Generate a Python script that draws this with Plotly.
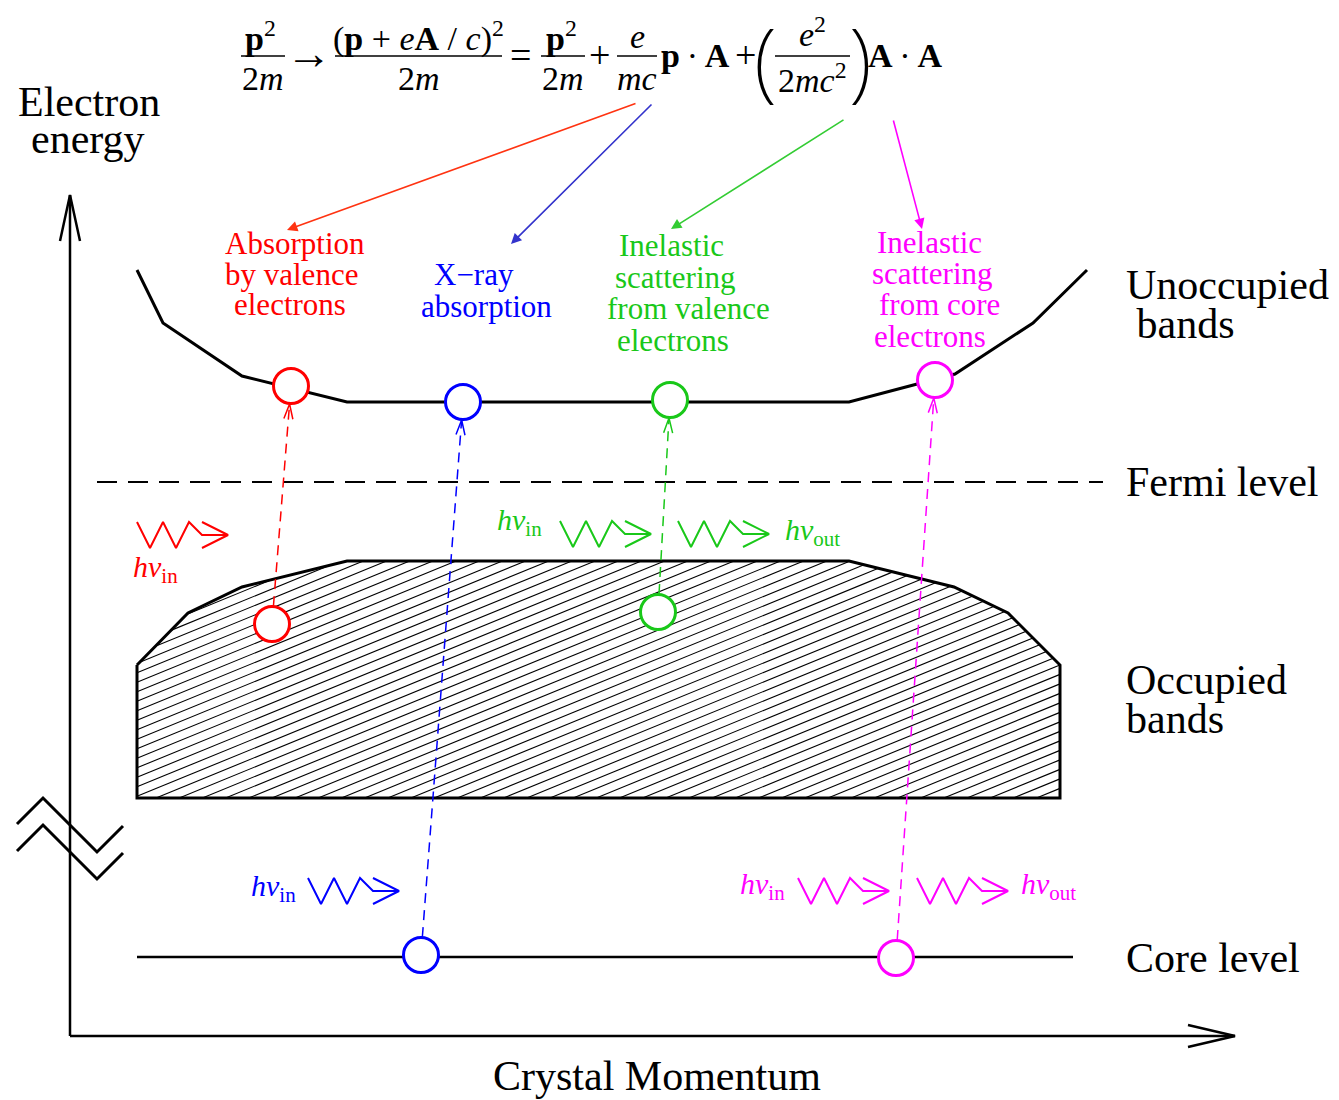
import numpy as np
import plotly.graph_objects as go

W, H = 1339, 1100
SERIF = "Liberation Serif"

# ---- band structure outlines (canvas units: x = crystal momentum, y = energy, downwards) ----
upper_band_x = [137, 163, 242, 347, 849, 955, 1033, 1087]
upper_band_y = [270, 323, 376, 402, 402, 374, 323, 270]

valence_x = [137, 188, 242, 347, 849, 954, 1008, 1060, 1060, 137, 137]
valence_y = [665, 613, 587, 561, 561, 587, 613, 665, 798, 798, 665]

fermi_x = [97, 1103]
fermi_y = 482
core_x = [137, 1073]
core_y = 957

# ---- the four processes: colour, initial state, final state ----
process_names = ["valence absorption", "x-ray absorption", "valence scattering", "core scattering"]
process_colors = ["#ff0000", "#0000ff", "#19c819", "#ff00ff"]
initial_x = [272, 421, 658, 896]
initial_y = [624, 955, 612, 958]
final_x = [291, 463, 670, 935]
final_y = [386, 402, 400, 380]
state_radius = 18

# photon glyphs: (start x, centre y, colour index)
photon_x = [137, 560, 678, 308, 798, 917]
photon_y = [535, 534, 534, 891, 891, 891]
photon_c = [0, 2, 2, 1, 3, 3]

# photon labels: (text, left x, centre y, colour index)
hv_labels = [
    ("<i>hν</i><sub>in</sub>", 131, 569, 0),
    ("<i>hν</i><sub>in</sub>", 495, 522, 2),
    ("<i>hν</i><sub>out</sub>", 783, 532, 2),
    ("<i>hν</i><sub>in</sub>", 249, 888, 1),
    ("<i>hν</i><sub>in</sub>", 738, 886, 3),
    ("<i>hν</i><sub>out</sub>", 1019, 886, 3),
]

# process captions, one entry per line: (text, centre x, centre y, colour index)
captions = [
    ("Absorption", 295, 243, 0), ("by valence", 291, 274, 0), ("electrons", 290, 304, 0),
    ("X\u2212ray", 474, 274, 1), ("absorption", 486, 306, 1),
    ("Inelastic", 671, 245, 2), ("scattering", 675, 277, 2),
    ("from valence", 688, 308, 2), ("electrons", 673, 340, 2),
    ("Inelastic", 929, 242, 3), ("scattering", 932, 273, 3),
    ("from core", 939, 304, 3), ("electrons", 930, 336, 3),
]

# pointers from the Hamiltonian terms to the captions: (tail x, tail y, head x, head y, colour)
term_arrows = [
    (637, 103, 287, 230, "#ff3311"),
    (653, 103, 511, 244, "#3333cc"),
    (845, 119, 671, 229, "#33cc33"),
    (893, 119, 922, 229, "#ff00ff"),
]

# black side labels: (text, x, centre y, anchor)
side_labels = [
    ("Electron", 89, 102, "center"), ("energy", 88, 139, "center"),
    ("Unoccupied", 1124, 285, "left"), (" bands", 1124, 324, "left"),
    ("Fermi level", 1124, 482, "left"),
    ("Occupied", 1124, 680, "left"), ("bands", 1124, 719, "left"),
    ("Core level", 1124, 958, "left"),
    ("Crystal Momentum", 657, 1076, "center"),
]

fig = go.Figure()


def add_line(xs, ys, color="black", width=2.5, dash=None):
    fig.add_trace(go.Scatter(x=xs, y=ys, mode="lines", hoverinfo="skip",
                             line=dict(color=color, width=width, dash=dash)))


# ---- hatching of the occupied bands ----
hatch_slope = -0.41
hatch_step = 9.5
vx = np.array(valence_x, float)
vy = np.array(valence_y, float)
offsets = vy - hatch_slope * vx
hx, hy = [], []
for a in np.arange(offsets.min() + hatch_step / 2, offsets.max(), hatch_step):
    pts = []
    for i in range(len(vx) - 1):
        x1, y1, x2, y2 = vx[i], vy[i], vx[i + 1], vy[i + 1]
        f1 = y1 - (a + hatch_slope * x1)
        f2 = y2 - (a + hatch_slope * x2)
        if f1 == f2:
            continue
        if (f1 <= 0 <= f2) or (f2 <= 0 <= f1):
            t = f1 / (f1 - f2)
            pts.append((x1 + t * (x2 - x1), y1 + t * (y2 - y1)))
    if len(pts) >= 2:
        pts.sort()
        hx += [pts[0][0], pts[-1][0], None]
        hy += [pts[0][1], pts[-1][1], None]
fig.add_trace(go.Scatter(x=hx, y=hy, mode="lines", hoverinfo="skip",
                         line=dict(color="black", width=1.1)))

# ---- bands and levels ----
add_line(valence_x, valence_y, width=3)
add_line(upper_band_x, upper_band_y, width=3)
add_line(fermi_x, [fermi_y, fermi_y], width=2.2, dash="20px,11px")
add_line(core_x, [core_y, core_y], width=2.5)

# ---- axes with open arrow heads ----
ax0x, ax0y = 70, 1036
ytop, xend = 195, 1235
add_line([ax0x, ax0x], [ax0y, ytop], width=2.5)
add_line([ax0x - 10, ax0x, ax0x + 10], [ytop + 46, ytop, ytop + 46], width=2.5)
add_line([ax0x, xend], [ax0y, ax0y], width=2.5)
add_line([xend - 47, xend, xend - 47], [ax0y - 11, ax0y, ax0y + 11], width=2.5)

# axis break symbol
brk_x = [17, 43, 97, 123]
brk_y = [824, 798, 852, 826]
add_line(brk_x, brk_y, width=3)
add_line(brk_x, [v + 27 for v in brk_y], width=3)

# ---- dashed transitions with small open arrow heads ----
for k in range(4):
    col = process_colors[k]
    p0 = np.array([initial_x[k], initial_y[k]], float)
    p1 = np.array([final_x[k], final_y[k]], float)
    u = (p1 - p0) / np.linalg.norm(p1 - p0)
    n = np.array([-u[1], u[0]])
    s = p0 + u * state_radius
    e = p1 - u * state_radius
    add_line([s[0], e[0]], [s[1], e[1]], color=col, width=1.5, dash="10px,7px")
    b1 = e - u * 15 + n * 4.5
    b2 = e - u * 15 - n * 4.5
    add_line([b1[0], e[0], b2[0]], [b1[1], e[1], b2[1]], color=col, width=1.5)

# ---- photon zigzags ----
zig_dx = [0, 13, 26, 39, 52, 65, 91]
zig_dy = [-13, 13, -13, 13, -13, 0, 0]
for x0, yc, ci in zip(photon_x, photon_y, photon_c):
    col = process_colors[ci]
    add_line([x0 + d for d in zig_dx], [yc + d for d in zig_dy], color=col, width=2)
    add_line([x0 + 65, x0 + 91, x0 + 65], [yc - 13, yc, yc + 13], color=col, width=2)

# ---- electron states ----
all_x = initial_x + final_x
all_y = initial_y + final_y
all_c = process_colors + process_colors
fig.add_trace(go.Scatter(x=all_x, y=all_y, mode="markers", hoverinfo="skip",
                         marker=dict(symbol="circle", size=2 * state_radius - 1, color="white",
                                     line=dict(color=all_c, width=3))))

annotations = []


def text(t, x, y, size, color="black", anchor="center", family=SERIF, weight=None):
    font = dict(family=family, size=size, color=color)
    if weight is not None:
        font["weight"] = weight
    annotations.append(dict(text=t, x=x, y=y, xref="x", yref="y", showarrow=False,
                            xanchor=anchor, yanchor="middle", font=font))


for t, x, y, a in side_labels:
    text(t, x, y, 42, anchor=a)
for t, x, y, ci in captions:
    text(t, x, y, 31, color=process_colors[ci])
for t, x, y, ci in hv_labels:
    text(t, x, y, 30, color=process_colors[ci], anchor="left")

for tx, ty, hx_, hy_, col in term_arrows:
    annotations.append(dict(x=hx_, y=hy_, ax=tx, ay=ty, xref="x", yref="y", axref="x", ayref="y",
                            text="", showarrow=True, arrowhead=2, arrowsize=1.3,
                            arrowwidth=1.6, arrowcolor=col))

# ---- Hamiltonian with the vector potential ----
EQ = 34
THIN = "\u2009"
eq_tokens = [
    ("<b>p</b><sup>2</sup>", 260, 36, EQ),
    ("2<i>m</i>", 263, 78, EQ),
    ("\u2192", 309, 53, 46),
    ("(<b>p</b> + <i>e</i><b>A</b> / <i>c</i>)<sup>2</sup>", 418, 36, EQ),
    ("2<i>m</i>", 419, 78, EQ),
    ("=", 520, 55, 38),
    ("<b>p</b><sup>2</sup>", 561, 36, EQ),
    ("2<i>m</i>", 563, 78, EQ),
    ("+", 599, 55, 38),
    ("<i>e</i>", 637, 36, EQ),
    ("<i>mc</i>", 637, 78, EQ),
    ("<b>p</b>" + THIN + "\u00b7" + THIN + "<b>A</b>", 695, 55, EQ),
    ("+", 745, 55, 38),
    ("<i>e</i><sup>2</sup>", 812, 32, EQ),
    ("2<i>mc</i><sup>2</sup>", 812, 78, EQ),
    ("<b>A</b>" + THIN + "\u00b7" + THIN + "<b>A</b>", 905, 55, EQ),
]
for t, x, y, s in eq_tokens:
    text(t, x, y, s)
# tall, thin bracket pair around the second-order coefficient
text("(", 765, 57, 86, family="Noto Sans", weight=200)
text(")", 860, 57, 86, family="Noto Sans", weight=200)

fraction_bars = [(241, 285), (335, 502), (541, 585), (617, 657), (775, 850)]
shapes = [dict(type="line", xref="x", yref="y", x0=a, x1=b, y0=56, y1=56,
               line=dict(color="black", width=1.5)) for a, b in fraction_bars]

fig.update_layout(
    width=W, height=H, margin=dict(l=0, r=0, t=0, b=0),
    paper_bgcolor="white", plot_bgcolor="white", showlegend=False,
    xaxis=dict(range=[0, W], visible=False, fixedrange=True),
    yaxis=dict(range=[H, 0], visible=False, fixedrange=True),
    annotations=annotations, shapes=shapes,
)

fig.write_html("out.html")
